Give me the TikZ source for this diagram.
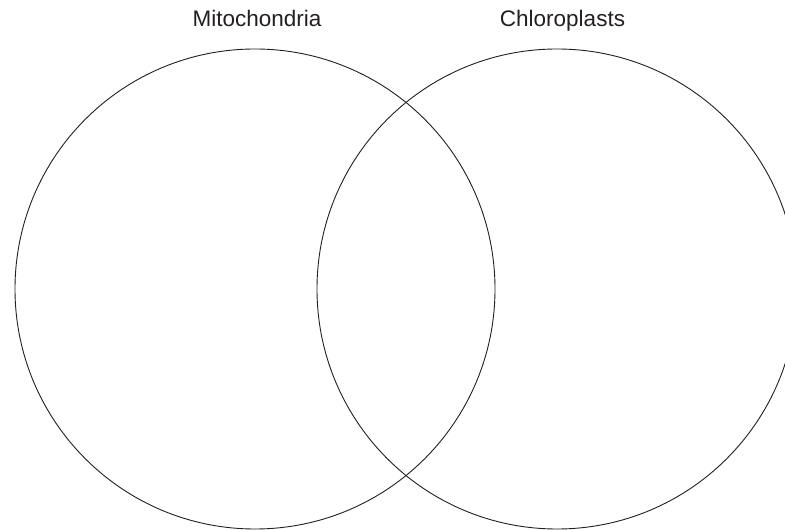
\documentclass[tikz,border=0pt]{standalone}
\usepackage{fontspec}
\setmainfont{Liberation Sans}
\definecolor{ink}{HTML}{231F20}
\begin{document}
\begin{tikzpicture}[x=1pt,y=1pt,
  setcircle/.style={circle, draw=ink, line width=0.9pt, minimum size=480pt, inner sep=0pt},
  setlabel/.style={anchor=base, text=ink, font=\fontsize{22.5}{26}\selectfont, inner sep=0pt}]
\useasboundingbox (0,0) rectangle (785,530);
\clip (0,0) rectangle (785,530);
\node[setcircle] (mito) at (255,241) {};
\node[setcircle] (chloro) at (557,241) {};
\node[setlabel] (mitolabel) at (257,503) {Mitochondria};
\node[setlabel] (chlorolabel) at (562.5,503) {Chloroplasts};
\end{tikzpicture}
\end{document}
